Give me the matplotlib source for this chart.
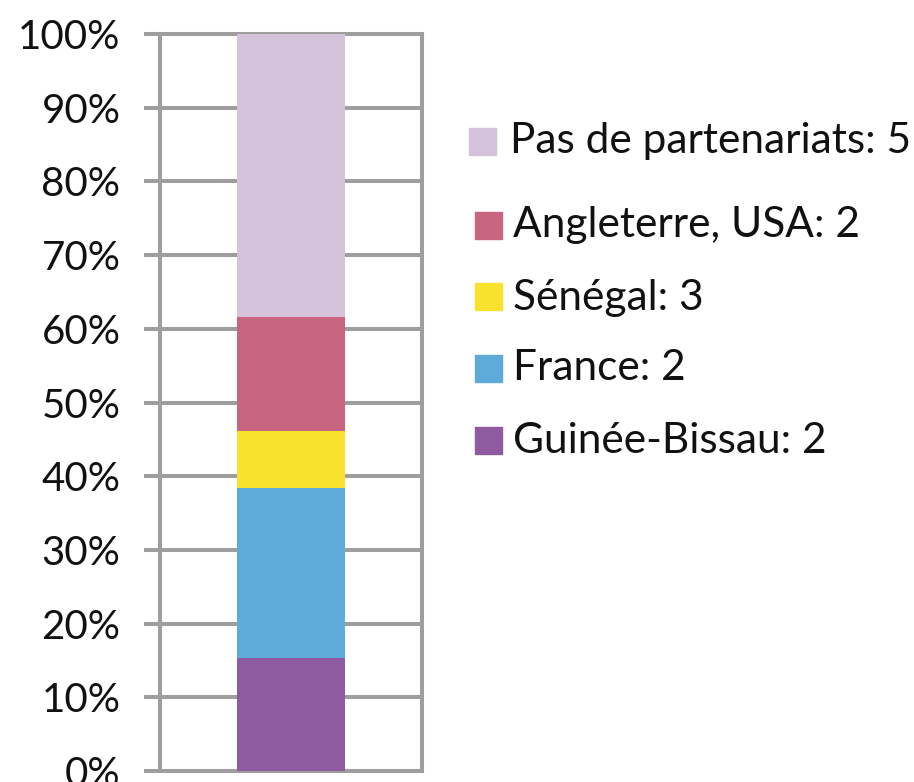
import matplotlib.pyplot as plt
from matplotlib.patches import Rectangle
from matplotlib.ticker import PercentFormatter

# Partner countries, bottom to top of the stacked bar
partners = ['Guinée-Bissau', 'France', 'Sénégal', 'Angleterre, USA', 'Pas de partenariats']
bar_counts = [2, 3, 1, 2, 5]          # segment sizes of the 100% bar
legend_counts = [2, 2, 3, 2, 5]       # numbers written in the legend
colors = ['#8e5ba0', '#5eaad8', '#f9e22e', '#c86681', '#d5c3dc']
y_ticks = [0, 10, 20, 30, 40, 50, 60, 70, 80, 90, 100]

W, H = 914, 782
GRID = '#9e9e9e'
FONT = 'Lato'


def fx(px):
    return px / W


def fy(py):
    return 1 - py / H


def main():
    fig = plt.figure(figsize=(W / 100, H / 100), dpi=100)
    ax = fig.add_axes([fx(160), fy(771), fx(422) - fx(160), fy(34) - fy(771)])

    total = sum(bar_counts)
    bottom = 0
    for count, color in zip(bar_counts, colors):
        share = count / total * 100
        ax.bar(0, share, bottom=bottom, width=0.41, color=color, zorder=3)
        bottom += share

    ax.set_xlim(-0.5, 0.5)
    ax.set_ylim(0, 100)
    ax.set_xticks([])
    ax.set_yticks(y_ticks)
    ax.yaxis.set_major_formatter(PercentFormatter(decimals=0))

    ax.set_axisbelow(True)
    ax.grid(axis='y', color=GRID, linewidth=2.9)
    for side in ['left', 'right', 'top', 'bottom']:
        ax.spines[side].set_color(GRID)
        ax.spines[side].set_linewidth(2.9)
    ax.tick_params(axis='y', length=11.5, width=2.9, color=GRID, pad=17,
                   labelsize=29, labelcolor='#111111')
    for lab in ax.get_yticklabels():
        lab.set_fontfamily(FONT)

    # legend, top entry first
    rows = [
        (4, 469, 141.7, 510, 153),
        (3, 475, 225, 513, 236.7),
        (2, 475, 296.7, 513, 310),
        (1, 475, 368, 513, 380),
        (0, 475, 440, 513, 452.7),
    ]
    sq = 27
    for i, sx, sy, tx, ty in rows:
        fig.patches.append(Rectangle((fx(sx), fy(sy + sq / 2)), fx(sq), fy(0) - fy(sq),
                                     transform=fig.transFigure, color=colors[i]))
        fig.text(fx(tx), fy(ty), f'{partners[i]}: {legend_counts[i]}',
                 fontsize=30.5, family=FONT, color='#111111', va='baseline', ha='left')

    fig.savefig('out.png', dpi=100)


if __name__ == '__main__':
    main()
